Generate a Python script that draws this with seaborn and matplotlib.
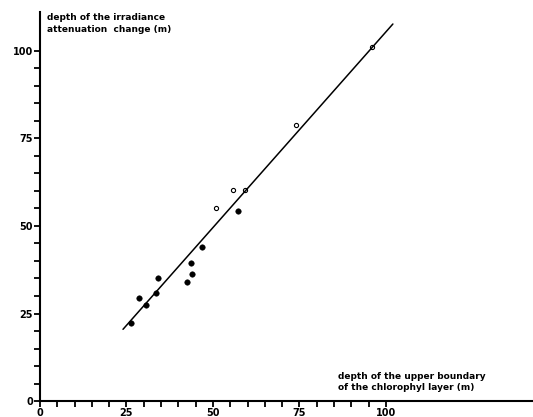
import numpy as np
import pandas as pd
import seaborn as sns
import matplotlib.pyplot as plt

# filled circles
filled_x = [26.3, 28.6, 30.6, 33.5, 34.0, 42.5, 43.9, 43.7, 46.9, 57.1]
filled_y = [22.3, 29.4, 27.5, 30.8, 35.1, 34.1, 36.3, 39.4, 44.1, 54.3]

# open circles
open_x = [50.9, 55.9, 59.2, 74.0, 95.9]
open_y = [55.1, 60.3, 60.3, 78.9, 101.1]

# regression line
line_x = [24, 102]
line_y = [20.5, 107.6]

tick_labels = [0, 25, 50, 75, 100]

sns.set_style('ticks')
plt.rcParams['font.family'] = ['DejaVu Sans']

fig = plt.figure(figsize=(5.33, 4.17), dpi=100)
ax = fig.add_axes([0.075, 0.038, 0.925, 0.933])

df_filled = pd.DataFrame({'x': filled_x, 'y': filled_y})
df_open = pd.DataFrame({'x': open_x, 'y': open_y})
df_line = pd.DataFrame({'x': line_x, 'y': line_y})

sns.lineplot(data=df_line, x='x', y='y', color='black', linewidth=1.1, ax=ax)
sns.scatterplot(data=df_filled, x='x', y='y', color='black', s=16, edgecolor='black', ax=ax)
sns.scatterplot(data=df_open, x='x', y='y', facecolor='white', edgecolor='black',
                s=9, linewidth=0.8, ax=ax)

ax.set_xlim(0, 142.5)
ax.set_ylim(0, 111)
ax.set_xticks(tick_labels)
ax.set_yticks(tick_labels)
ax.set_xticklabels([str(t) for t in tick_labels], fontsize=7, fontweight='bold')
ax.set_yticklabels([str(t) for t in tick_labels], fontsize=7, fontweight='bold')
ax.set_xticks(np.arange(0, 101, 5), minor=True)
ax.set_yticks(np.arange(0, 101, 5), minor=True)
ax.tick_params(which='both', direction='out', length=4, width=1.3, color='black',
               labelcolor='black', pad=1)
ax.set_xlabel('')
ax.set_ylabel('')

sns.despine(ax=ax)
for side in ['left', 'bottom']:
    ax.spines[side].set_linewidth(1.5)
    ax.spines[side].set_color('black')

ax.text(2, 110.6, 'depth of the irradiance\nattenuation  change (m)', fontsize=6.5,
        fontweight='bold', va='top', ha='left', linespacing=1.3, color='black')
ax.text(86, 2.6, 'depth of the upper boundary\nof the chlorophyl layer (m)', fontsize=6.5,
        fontweight='bold', va='bottom', ha='left', linespacing=1.3, color='black')

fig.savefig('out.png', dpi=100)
